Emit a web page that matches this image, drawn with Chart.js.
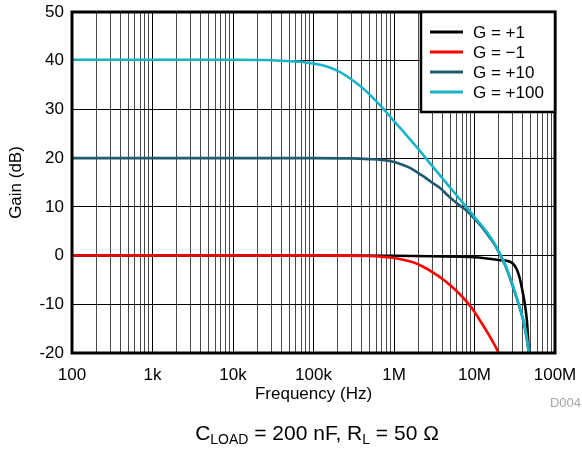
<!DOCTYPE html>
<html>
<head>
<meta charset="utf-8">
<script src="https://cdn.jsdelivr.net/npm/chart.js@4.4.1/dist/chart.umd.min.js"></script>
<style>
  html, body { margin: 0; padding: 0; background: #fff; }
  #wrap { width: 582px; height: 449px; }
</style>
</head>
<body>
<div id="wrap"><canvas id="gainChart" width="582" height="449"></canvas></div>
<script>
// ---- data ----
const seriesLabels = ["G = +1", "G = \u22121", "G = +10", "G = +100"];
const seriesColors = ["#000000", "#ff0000", "#1f5a6e", "#18b4c8"];

const freqG1 = [100, 1e5, 1e6, 3e6, 1e7, 2e7, 2.9e7, 3.3e7, 3.6e7, 3.85e7, 4.2e7, 4.47e7, 4.75e7, 4.85e7];
const gainG1 = [0, 0, -0.05, -0.15, -0.35, -0.9, -1.45, -2.6, -4.3, -6.4, -9.8, -13.2, -20, -21.5];

const freqGm1 = [100, 1e5, 3e5, 5e5, 7e5, 1e6, 1.3e6, 1.74e6, 2.3e6, 3e6, 4e6, 5e6, 7e6, 9.5e6, 1.2e7, 1.6e7, 2e7, 2.1e7];
const gainGm1 = [0, 0, -0.02, -0.1, -0.25, -0.5, -0.85, -1.4, -2.3, -3.4, -4.8, -6.1, -8.4, -11.0, -13.6, -17, -20, -20.8];

const freqG10 = [100, 1e5, 3e5, 5e5, 7e5, 8.9e5, 1.2e6, 1.58e6, 1.9e6, 2.3e6, 2.9e6, 3.7e6, 4.5e6, 5.4e6, 6.5e6, 8e6, 1.1e7, 1.43e7, 1.8e7, 2.1e7, 2.4e7, 2.7e7, 3.03e7, 3.5e7, 4.04e7, 4.4e7, 4.75e7, 4.85e7];
const gainG10 = [20, 20, 19.95, 19.8, 19.65, 19.4, 18.8, 18.0, 17.2, 16.3, 15.1, 13.9, 12.6, 11.4, 10.3, 9.2, 6.8, 4.5, 2.1, 0, -2.0, -4.2, -6.6, -9.8, -13.4, -16.5, -20.3, -21.5];

const freqG100 = [100, 1e4, 3e4, 5e4, 7e4, 1e5, 1.4e5, 2e5, 2.5e5, 3e5, 3.8e5, 4.6e5, 6e5, 7.3e5, 1e6, 1.4e6, 1.93e6, 3.05e6, 4.96e6, 8e6, 1.1e7, 1.43e7, 1.8e7, 2.1e7, 2.4e7, 2.7e7, 3.03e7, 3.5e7, 4.04e7, 4.4e7, 4.75e7, 4.85e7];
const gainG100 = [40.2, 40.2, 40.1, 39.9, 39.8, 39.4, 38.9, 37.9, 37.0, 36.1, 34.8, 33.6, 31.7, 30.2, 27.6, 24.9, 22.2, 18.2, 14.0, 9.9, 7.1, 4.8, 2.3, 0.2, -1.8, -4.0, -6.4, -9.6, -13.2, -16.2, -20, -21.5];

const xDecades = [1e2, 1e3, 1e4, 1e5, 1e6, 1e7, 1e8];
const xTickLabels = ["100", "1k", "10k", "100k", "1M", "10M", "100M"];
const yMin = -20, yMax = 50, yStep = 10;

const FONT = "'Liberation Sans', Arial, Helvetica, sans-serif";

function toPoints(fs, gs) {
  return fs.map((f, i) => ({ x: f, y: gs[i] }));
}

const allSeries = [
  toPoints(freqG1, gainG1),
  toPoints(freqGm1, gainGm1),
  toPoints(freqG10, gainG10),
  toPoints(freqG100, gainG100)
];

// later series sit on top (cyan over teal over red over black)
const datasets = allSeries.map((pts, i) => ({
  label: seriesLabels[i],
  data: pts,
  borderColor: seriesColors[i],
  borderWidth: 2.6,
  pointRadius: 0,
  fill: false,
  cubicInterpolationMode: "monotone",
  order: allSeries.length - i
}));

function isDecade(v) {
  return xDecades.some(d => Math.abs(v - d) / d < 1e-6);
}

// frame, legend box and loose texts
const extrasPlugin = {
  id: "extras",
  afterDraw(chart) {
    const ctx = chart.ctx;
    const a = chart.chartArea;
    ctx.save();

    // plot frame
    ctx.strokeStyle = "#000";
    ctx.lineWidth = 3;
    ctx.strokeRect(a.left, a.top, a.right - a.left, a.bottom - a.top);

    // legend box
    const lx = 421, ly = a.top, lw = a.right - 421, lh = 100;
    ctx.fillStyle = "#fff";
    ctx.fillRect(lx, ly, lw, lh);
    ctx.lineWidth = 2.5;
    ctx.strokeRect(lx, ly, lw, lh);
    ctx.font = "17px " + FONT;
    ctx.textBaseline = "middle";
    ctx.textAlign = "left";
    seriesLabels.forEach((lab, i) => {
      const y = ly + 20 + i * 20;
      ctx.strokeStyle = seriesColors[i];
      ctx.lineWidth = 3;
      ctx.beginPath();
      ctx.moveTo(430, y);
      ctx.lineTo(463, y);
      ctx.stroke();
      ctx.fillStyle = "#000";
      ctx.fillText(lab, 473, y + 1);
    });

    // axis titles
    ctx.fillStyle = "#000";
    ctx.font = "17px " + FONT;
    ctx.textAlign = "center";
    ctx.fillText("Frequency (Hz)", (a.left + a.right) / 2, 394);
    ctx.save();
    ctx.translate(16, (a.top + a.bottom) / 2);
    ctx.rotate(-Math.PI / 2);
    ctx.fillText("Gain (dB)", 0, 0);
    ctx.restore();

    // figure id
    ctx.fillStyle = "#a6a6a6";
    ctx.font = "13px " + FONT;
    ctx.textAlign = "right";
    ctx.fillText("D004", 581, 403);

    // caption with subscripts
    const parts = [
      { t: "C", sub: false }, { t: "LOAD", sub: true },
      { t: " = 200 nF, R", sub: false }, { t: "L", sub: true },
      { t: " = 50 \u03A9", sub: false }
    ];
    const mainFont = "21px " + FONT, subFont = "14px " + FONT;
    let total = 0;
    parts.forEach(p => {
      ctx.font = p.sub ? subFont : mainFont;
      p.w = ctx.measureText(p.t).width;
      total += p.w;
    });
    let x = 317 - total / 2;
    ctx.fillStyle = "#000";
    ctx.textAlign = "left";
    ctx.textBaseline = "alphabetic";
    parts.forEach(p => {
      ctx.font = p.sub ? subFont : mainFont;
      ctx.fillText(p.t, x, p.sub ? 444 : 440);
      x += p.w;
    });

    ctx.restore();
  }
};

new Chart(document.getElementById("gainChart"), {
  type: "line",
  data: { datasets: datasets },
  options: {
    responsive: false,
    animation: false,
    devicePixelRatio: 1,
    layout: { padding: { top: 12, right: 27, bottom: 0, left: 0 } },
    plugins: {
      legend: { display: false },
      tooltip: { enabled: false }
    },
    scales: {
      x: {
        type: "logarithmic",
        min: 1e2,
        max: 1e8,
        afterBuildTicks: scale => {
          const ticks = [];
          for (let e = 2; e < 8; e++) {
            for (let m = 1; m < 10; m++) ticks.push({ value: m * Math.pow(10, e) });
          }
          ticks.push({ value: 1e8 });
          scale.ticks = ticks;
        },
        afterFit: scale => {
          scale.height = 96;
          scale.paddingLeft = 0;
          scale.paddingRight = 0;
        },
        border: { display: false },
        grid: {
          drawTicks: false,
          lineWidth: 1,
          color: c => (c.tick && isDecade(c.tick.value)) ? "#000" : "#4a4a4a"
        },
        ticks: {
          autoSkip: false,
          maxRotation: 0,
          padding: 12,
          color: "#000",
          font: { family: FONT, size: 17 },
          callback: value => {
            const i = xDecades.findIndex(d => Math.abs(value - d) / d < 1e-6);
            return i >= 0 ? xTickLabels[i] : "";
          }
        }
      },
      y: {
        min: yMin,
        max: yMax,
        afterFit: scale => {
          scale.width = 72;
          scale.paddingTop = 0;
          scale.paddingBottom = 0;
        },
        border: { display: false },
        grid: { drawTicks: false, color: "#000", lineWidth: 1 },
        ticks: {
          stepSize: yStep,
          padding: 8,
          color: "#000",
          font: { family: FONT, size: 17 }
        }
      }
    }
  },
  plugins: [extrasPlugin]
});
</script>
</body>
</html>
